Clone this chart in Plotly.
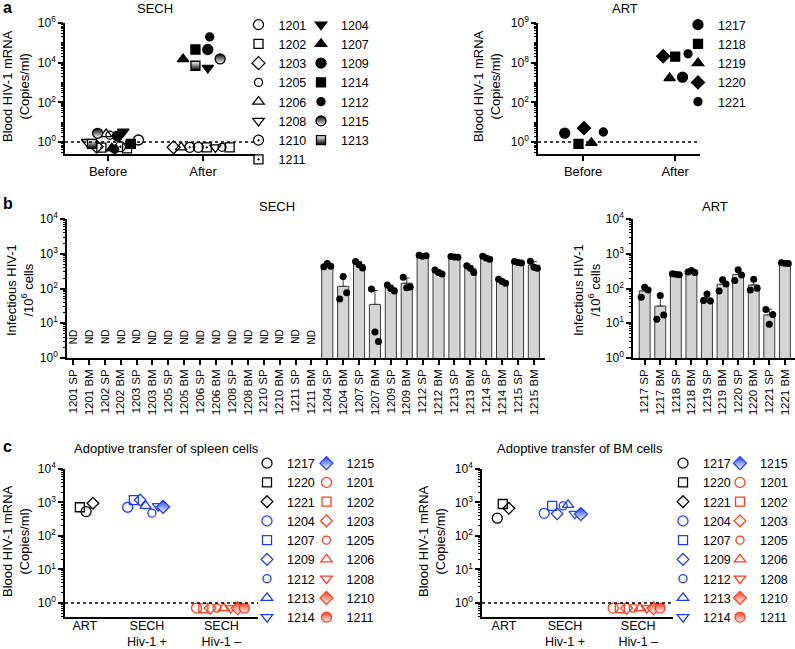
import numpy as np
import plotly.graph_objects as go

W, H = 795, 649
FONT = "Liberation Sans, Arial, Helvetica, sans-serif"
BLUE = "#1e3cff"
RED = "#ff3b1e"
BLACK = "#000000"

# ======================= DATA =======================
# ---- Panel a : plasma HIV-1 RNA, Before / After ----
a_groups = ["Before", "After"]
a_sech_ids = ["1201", "1202", "1203", "1205", "1206", "1208", "1210", "1211",
              "1204", "1207", "1209", "1214", "1212", "1215", "1213"]
a_sech_before = [1.26, 0.48, 0.58, 2.2, 2.5, 1.0, 0.58, 0.52,
                 3.3, 0.48, 2.0, 0.8, 0.43, 2.75, 0.8]
a_sech_after = [0.54, 0.54, 0.54, 0.54, 0.54, 0.54, 0.54, 0.54,
                5400, 15000, 46000, 46000, 200000, 15500, 7000]
a_art_ids = ["1217", "1218", "1219", "1220", "1221"]
a_art_before = [2.8, 0.8, 0.9, 5.0, 3.2]
a_art_after = [1860, 20000, 1660, 21000, 28000]
a_tickvals = [1, 100, 1e4, 1e6]
a_sech_ticktext = ["10<sup>0</sup>", "10<sup>2</sup>", "10<sup>4</sup>", "10<sup>6</sup>"]
a_art_ticktext = ["10<sup>0</sup>", "10<sup>2</sup>", "10<sup>8</sup>", "10<sup>9</sup>"]
detection_limit = 1

# ---- Panel b : infectious HIV-1 per 10^6 cells ----
b_sech_nd = ["1201 SP", "1201 BM", "1202 SP", "1202 BM", "1203 SP", "1203 BM",
             "1205 SP", "1205 BM", "1206 SP", "1206 BM", "1208 SP", "1208 BM",
             "1210 SP", "1210 BM", "1211 SP", "1211 BM"]
b_sech_det = ["1204 SP", "1204 BM", "1207 SP", "1207 BM", "1209 SP", "1209 BM",
              "1212 SP", "1212 BM", "1213 SP", "1213 BM", "1214 SP", "1214 BM",
              "1215 SP", "1215 BM"]
b_sech_reps = [[420, 520, 440], [50, 220, 76], [600, 480, 390], [96, 5.6, 3],
               [126, 100, 85], [210, 105, 110], [900, 850, 870], [340, 290, 260],
               [830, 800, 790], [450, 380, 290], [850, 760, 700], [185, 160, 142],
               [600, 560, 540], [610, 410, 380]]
b_art_labels = ["1217 SP", "1217 BM", "1218 SP", "1218 BM", "1219 SP", "1219 BM",
                "1220 SP", "1220 BM", "1221 SP", "1221 BM"]
b_art_reps = [[56, 109, 91], [13, 63, 17.4], [265, 255, 250], [300, 330, 290],
              [45, 70, 44], [85, 180, 135], [170, 345, 245], [91, 186, 102],
              [25, 9.3, 18], [550, 530, 520]]
b_tickvals = [1, 10, 100, 1000, 10000]
b_ticktext = ["10<sup>0</sup>", "10<sup>1</sup>", "10<sup>2</sup>", "10<sup>3</sup>", "10<sup>4</sup>"]

# ---- Panel c : adoptive transfer ----
c_groups = ["ART", "SECH<br>Hiv-1 +", "SECH<br>Hiv-1 –"]
c_art_ids = ["1217", "1220", "1221"]
c_pos_ids = ["1204", "1207", "1209", "1212", "1213", "1214", "1215"]
c_neg_ids = ["1201", "1202", "1203", "1205", "1206", "1208", "1210", "1211"]
c_sp_art = [535, 720, 950]
c_sp_pos = [720, 1180, 1180, 480, 790, 780, 740]
c_sp_neg = [0.7, 0.7, 0.7, 0.7, 0.7, 0.7, 0.7, 0.7]
c_bm_art = [340, 900, 670]
c_bm_pos = [475, 790, 460, 790, 850, 460, 450]
c_bm_neg = [0.7, 0.7, 0.7, 0.7, 0.7, 0.7, 0.7, 0.7]

# ======================= STYLE =======================
a_sech_off_before = [0.32, 0.2, -0.12, 0.02, -0.02, -0.22, 0.13, -0.07,
                     0.16, 0.04, 0.1, 0.24, 0.07, -0.11, -0.17]
a_sech_off_after = [-0.05, 0.28, -0.31, 0.2, -0.23, 0.13, -0.14, 0.04,
                    0.05, -0.21, 0.05, -0.08, 0.07, 0.18, -0.08]
a_art_off_before = [-0.2, -0.05, 0.09, 0.01, 0.22]
a_art_off_after = [0.08, 0.0, -0.06, -0.13, 0.14]

SYM = {
    "1201": ("circle-open", 10), "1202": ("square-open", 9), "1203": ("diamond-open", 10),
    "1205": ("circle-open", 8), "1206": ("triangle-up-open", 10), "1208": ("triangle-down-open", 10),
    "1210": ("circle-open-dot", 10), "1211": ("square-open-dot", 9),
    "1204": ("triangle-down", 10), "1207": ("triangle-up", 10), "1209": ("circle", 10),
    "1214": ("square", 9), "1212": ("circle", 8), "1215": ("halftop-circle", 10),
    "1213": ("halfbottom-square", 9),
    "1217": ("circle", 10), "1218": ("square", 9), "1219": ("triangle-up", 10),
    "1220": ("diamond", 10), "1221": ("circle", 8),
}
C_SYM = {
    "1217": ("circle-open", 10), "1220": ("square-open", 9), "1221": ("diamond-open", 9),
    "1204": ("circle-open", 10), "1207": ("square-open", 9), "1209": ("diamond-open", 9),
    "1212": ("circle-open", 8), "1213": ("triangle-up-open", 10), "1214": ("triangle-down-open", 10),
    "1215": ("halftop-diamond", 10),
    "1201": ("circle-open", 10), "1202": ("square-open", 9), "1203": ("diamond-open", 9),
    "1205": ("circle-open", 8), "1206": ("triangle-up-open", 10), "1208": ("triangle-down-open", 10),
    "1210": ("halftop-diamond", 10), "1211": ("halftop-circle", 10),
}


def marker(spec, color):
    sym, size = spec
    if sym.startswith("halftop-"):
        return dict(symbol=sym.split("-", 1)[1], size=size, color=color,
                    gradient=dict(type="vertical", color="white"),
                    line=dict(color=color, width=1.3))
    if sym.startswith("halfbottom-"):
        return dict(symbol=sym.split("-", 1)[1], size=size, color="white",
                    gradient=dict(type="vertical", color=color),
                    line=dict(color=color, width=1.3))
    return dict(symbol=sym, size=size, color=color, line=dict(color=color, width=1.3))


def dx(a, b):
    return [a / W, b / W]


def dy(top, bottom):
    return [1 - bottom / H, 1 - top / H]


fig = go.Figure()

# ---------------- Panel a ----------------
for i, pid in enumerate(a_sech_ids):
    fig.add_trace(go.Scatter(
        x=[0 + a_sech_off_before[i], 1 + a_sech_off_after[i]],
        y=[a_sech_before[i], a_sech_after[i]], mode="markers", name=pid,
        marker=marker(SYM[pid], BLACK), xaxis="x", yaxis="y", cliponaxis=False,
        legend="legend" if i < 8 else "legend2"))
for i, pid in enumerate(a_art_ids):
    fig.add_trace(go.Scatter(
        x=[0 + a_art_off_before[i], 1 + a_art_off_after[i]],
        y=[a_art_before[i], a_art_after[i]], mode="markers", name=pid,
        marker=marker(SYM[pid], BLACK), xaxis="x2", yaxis="y2", cliponaxis=False,
        legend="legend3"))

# ---------------- Panel b ----------------
dot_off = [-0.22, 0.0, 0.22]


def add_bars(labels_start, reps, xa, ya):
    means = [float(np.mean(r)) for r in reps]
    sds = [float(np.std(r, ddof=1)) for r in reps]
    xs = [labels_start + i for i in range(len(reps))]
    fig.add_trace(go.Bar(
        x=xs, y=means, width=0.7, showlegend=False,
        marker=dict(color="#d4d4d4", line=dict(color="#3c3c3c", width=1)),
        error_y=dict(type="data", symmetric=False, array=sds,
                     arrayminus=[0] * len(sds), color="#3c3c3c", thickness=1, width=3),
        xaxis=xa, yaxis=ya))
    px, py = [], []
    for xi, r in zip(xs, reps):
        for o, v in zip(dot_off, r):
            px.append(xi + o)
            py.append(v)
    fig.add_trace(go.Scatter(x=px, y=py, mode="markers", showlegend=False,
                             marker=dict(color="black", size=7), xaxis=xa, yaxis=ya,
                             cliponaxis=False))


add_bars(len(b_sech_nd), b_sech_reps, "x3", "y3")
add_bars(0, b_art_reps, "x4", "y4")

# ---------------- Panel c ----------------
c_group_pos = [0, 1, 2.2]
c_left_off = {"art": [0.02, -0.08, 0.13],
              "pos": [-0.31, -0.21, -0.11, 0.08, -0.02, 0.18, 0.26],
              "neg": [-0.4, -0.29, -0.18, -0.07, 0.04, 0.15, 0.26, 0.37]}
c_right_off = {"art": [-0.11, -0.02, 0.08],
               "pos": [-0.34, -0.21, -0.13, -0.03, 0.05, 0.16, 0.26],
               "neg": [-0.41, -0.3, -0.19, -0.08, 0.03, 0.14, 0.25, 0.36]}


def add_c(vals, offs, xa, ya, leg1, leg2):
    groups = [("art", c_art_ids, vals[0], BLACK, 0),
              ("pos", c_pos_ids, vals[1], BLUE, 1),
              ("neg", c_neg_ids, vals[2], RED, 2)]
    entries = []
    for key, ids, v, col, g in groups:
        for j, pid in enumerate(ids):
            entries.append((pid, c_group_pos[g] + offs[key][j], v[j], col))
    for k, (pid, x, y, col) in enumerate(entries):
        fig.add_trace(go.Scatter(x=[x], y=[y], mode="markers", name=pid,
                                 marker=marker(C_SYM[pid], col), xaxis=xa, yaxis=ya,
                                 cliponaxis=False, legend=leg1 if k < 9 else leg2))


add_c([c_sp_art, c_sp_pos, c_sp_neg], c_left_off, "x5", "y5", "legend4", "legend5")
add_c([c_bm_art, c_bm_pos, c_bm_neg], c_right_off, "x6", "y6", "legend6", "legend7")

# ---------------- Axes ----------------
def yax(domain, rng, tv, tt, anchor):
    return dict(type="log", domain=domain, range=rng, anchor=anchor,
                tickmode="array", tickvals=tv, ticktext=tt,
                showline=True, linecolor="black", linewidth=1.5,
                ticks="outside", ticklen=5, tickwidth=1.5, tickcolor="black",
                showgrid=False, zeroline=False, automargin=False,
                tickfont=dict(size=12, color="black", family=FONT),
                minor=dict(ticks="outside", ticklen=2.5, tickwidth=1, tickcolor="black",
                           dtick="D1", showgrid=False))


def xax(domain, rng, tv, tt, anchor, ticks="outside", size=13, angle=0, standoff=0):
    return dict(domain=domain, range=rng, anchor=anchor, tickmode="array",
                tickvals=tv, ticktext=tt, showline=True, linecolor="black",
                linewidth=1.5, ticks=ticks, ticklen=5 if ticks else 0, tickwidth=1.5,
                tickcolor="black", showgrid=False, zeroline=False, tickangle=angle,
                automargin=False, ticklabelstandoff=standoff,
                tickfont=dict(size=size, color="black", family=FONT))


a_range = [-0.605, 6]
b_range = [0, 4]
c_range = [-0.42, 4]

layout = dict(
    width=W, height=H, margin=dict(l=0, r=0, t=0, b=0, autoexpand=False),
    paper_bgcolor="white", plot_bgcolor="white", hovermode=False,
    font=dict(family=FONT, size=12, color="black"),
    xaxis=xax(dx(65, 255), [-0.453, 1.547], [0, 1], a_groups, "y"),
    yaxis=yax(dy(23, 154), a_range, a_tickvals, a_sech_ticktext, "x"),
    xaxis2=xax(dx(538, 700), [-0.49, 1.27], [0, 1], a_groups, "y2"),
    yaxis2=yax(dy(23, 154), a_range, a_tickvals, a_art_ticktext, "x2"),
    xaxis3=xax(dx(67, 545), [-0.38, 29.7], list(range(len(b_sech_nd) + len(b_sech_det))),
               b_sech_nd + b_sech_det, "y3", size=11.5, angle=-90),
    yaxis3=yax(dy(219, 358), b_range, b_tickvals, b_ticktext, "x3"),
    xaxis4=xax(dx(633, 795), [-0.75, 9.65], list(range(len(b_art_labels))),
               b_art_labels, "y4", size=11.5, angle=-90),
    yaxis4=yax(dy(219, 358), b_range, b_tickvals, b_ticktext, "x4"),
    xaxis5=xax(dx(65, 258), [-0.32, 2.79], c_group_pos, c_groups, "y5", ticks="",
               size=12.5, standoff=-4),
    yaxis5=yax(dy(469, 617), c_range, b_tickvals, b_ticktext, "x5"),
    xaxis6=xax(dx(482, 673), [-0.36, 2.77], c_group_pos, c_groups, "y6", ticks="",
               size=12.5, standoff=-4),
    yaxis6=yax(dy(469, 617), c_range, b_tickvals, b_ticktext, "x6"),
)


def leg(xpx, ytop):
    return dict(x=xpx / W, y=1 - ytop / H, xanchor="left", yanchor="top",
                bgcolor="rgba(0,0,0,0)", borderwidth=0, tracegroupgap=0,
                font=dict(size=12.5, family=FONT, color="black"), itemclick=False,
                itemdoubleclick=False)


layout["legend"] = leg(238.5, 10)
layout["legend2"] = leg(301, 10)
layout["legend3"] = leg(678, 10)
layout["legend4"] = leg(247, 448.5)
layout["legend5"] = leg(306.5, 448.5)
layout["legend6"] = leg(663, 448.5)
layout["legend7"] = leg(720, 448.5)

fig.update_layout(**layout)

# dotted detection-limit lines
for ya, rng in [("y", a_range), ("y2", a_range), ("y5", c_range), ("y6", c_range)]:
    yd = (np.log10(detection_limit) - rng[0]) / (rng[1] - rng[0])
    xa = "x" + ya[1:]
    fig.add_shape(type="line", xref=xa + " domain", yref=ya + " domain",
                  x0=0, x1=1, y0=yd, y1=yd, line=dict(color="black", width=1.5, dash="dot"))

# ND labels
n_nd = len(b_sech_nd)
for i in range(n_nd):
    fig.add_annotation(x=i, y=0.085, xref="x3", yref="y3 domain", text="ND",
                       textangle=-90, showarrow=False, font=dict(size=10, family=FONT))


def ann(text, xp, yp, size=13, angle=0, bold=False, xanchor="center"):
    fig.add_annotation(x=xp / W, y=1 - yp / H, xref="paper", yref="paper",
                       text=("<b>%s</b>" % text) if bold else text, showarrow=False,
                       textangle=angle, xanchor=xanchor, yanchor="middle",
                       font=dict(size=size, family=FONT, color="black"))


ann("SECH", 155, 9)
ann("ART", 625, 9)
ann("SECH", 277, 207)
ann("ART", 715, 207)
ann("Adoptive transfer of spleen cells", 166, 448)
ann("Adoptive transfer of BM cells", 580, 448)
ann("a", 1, 8, size=16, bold=True, xanchor="left")
ann("b", 1, 203, size=16, bold=True, xanchor="left")
ann("c", 1, 446, size=16, bold=True, xanchor="left")
ann("Blood HIV-1 mRNA<br>(Copies/ml)", 16, 86, angle=-90)
ann("Blood HIV-1 mRNA<br>(Copies/ml)", 487, 86, angle=-90)
ann("Infectious HIV-1<br>/10<sup>6</sup> cells", 20, 290, angle=-90)
ann("Infectious HIV-1<br>/10<sup>6</sup> cells", 587, 290, angle=-90)
ann("Blood HIV-1 mRNA<br>(Copies/ml)", 16, 541, angle=-90)
ann("Blood HIV-1 mRNA<br>(Copies/ml)", 432, 541, angle=-90)

fig.write_html("out.html", config={"displayModeBar": False},
               post_script="document.body.style.margin='0px';document.body.style.padding='0px';")
